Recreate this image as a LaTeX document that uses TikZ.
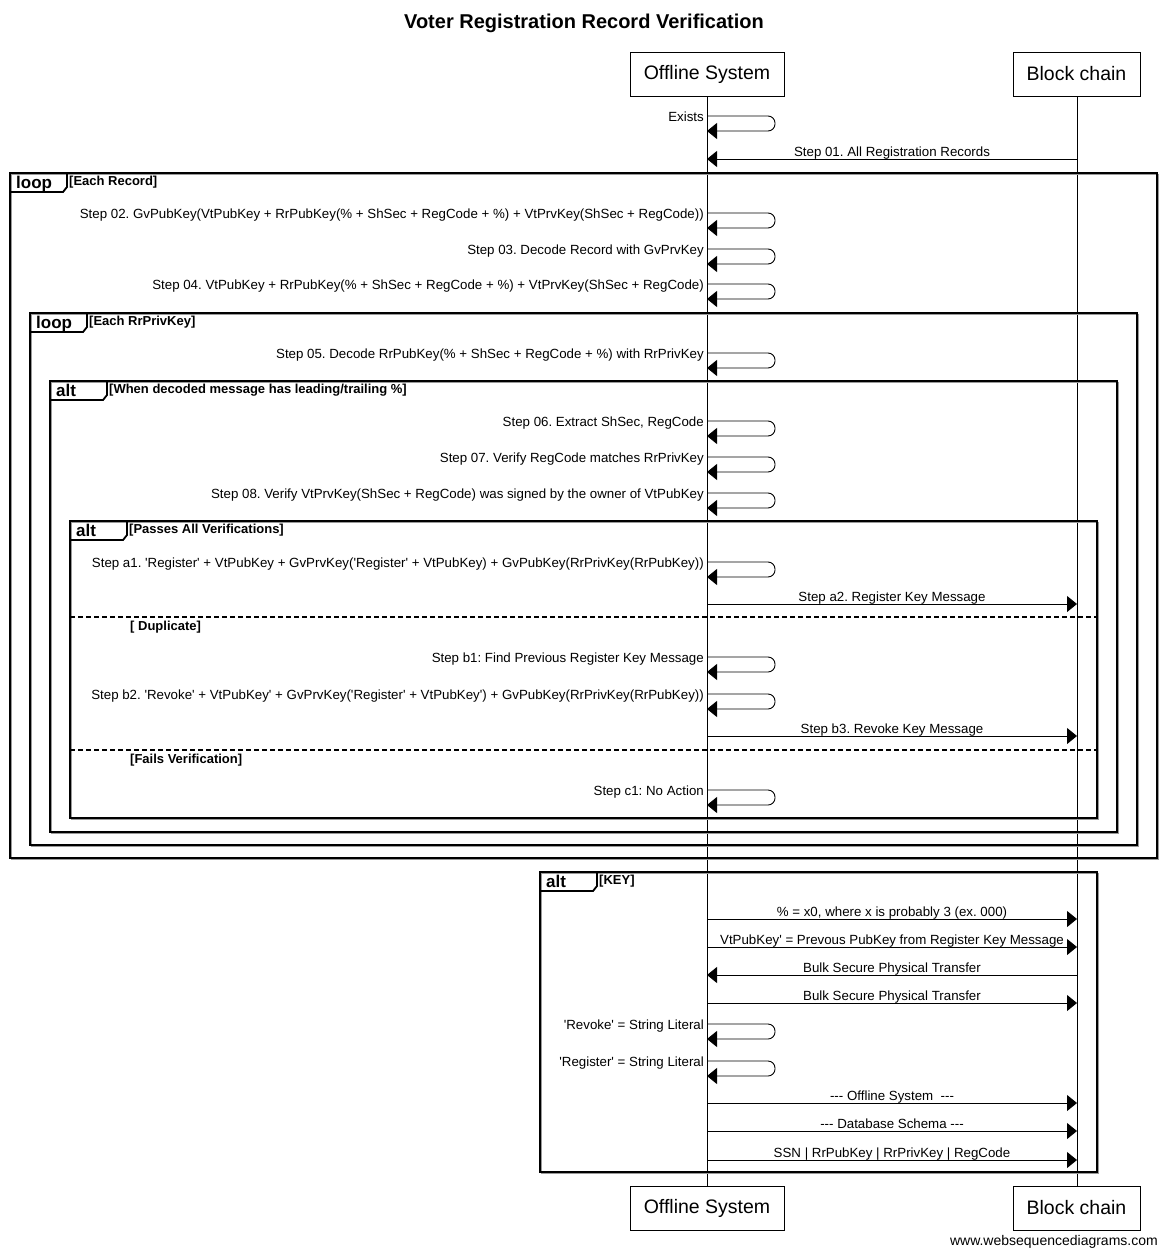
\documentclass[tikz,border=0pt]{standalone}
\usepackage{fontspec}
\setmainfont{Liberation Sans}[Ligatures=TeXOff]
\usetikzlibrary{arrows.meta}
\frenchspacing

% lifeline x positions
\def\xa{707}
\def\xb{1077}

\tikzset{
  part/.style={draw, line width=0.8pt, minimum height=44pt, inner sep=0pt,
    font=\fontsize{19.5}{22}\selectfont},
  lifeline/.style={line width=0.8pt},
  msg/.style={line width=0.9pt, -{Triangle[length=10pt,width=16pt]}},
  lbl/.style={font=\fontsize{13.3}{15}\selectfont, inner sep=0pt},
  kw/.style={font=\fontsize{17}{19}\selectfont\bfseries, inner sep=0pt},
  cond/.style={font=\fontsize{13}{15}\selectfont\bfseries, inner sep=0pt},
  frameline/.style={line width=1.8pt},
  frameshade/.style={line width=1.2pt, black!40},
  sepline/.style={line width=1.4pt, dash pattern=on 5pt off 3pt},
}

% self message on the Offline System lifeline
\newcommand\selfmsg[3]{%
  \coordinate (#1) at (\xa,#2);
  \node[lbl, anchor=base east] at ([xshift=-3pt,yshift=-5.5pt]#1) {#3};
  \draw[msg, rounded corners=7pt] (#1) -- ++(68,0) -- ++(0,15) -- ++(-68,0);
}
% Offline System -> Block chain
\newcommand\msgright[3]{%
  \coordinate (#1a) at (\xa,#2);
  \coordinate (#1b) at (\xb,#2);
  \draw[msg] (#1a) -- node[lbl, anchor=base, yshift=2.5pt] {#3} (#1b);
}
% Block chain -> Offline System
\newcommand\msgleft[3]{%
  \coordinate (#1a) at (\xa,#2);
  \coordinate (#1b) at (\xb,#2);
  \draw[msg] (#1b) -- node[lbl, anchor=base, yshift=2.5pt] {#3} (#1a);
}
% combined fragment: x1, y1, x2, y2, keyword, condition
\newcommand\fragment[6]{%
  \draw[frameshade] (#1+1.2,#2+1.2) rectangle (#3+1.2,#4+1.2);
  \draw[frameline] (#1,#2) rectangle (#3,#4);
  \draw[frameline] (#1,#2+19) -- (#1+53,#2+19) -- (#1+57,#2+14) -- (#1+57,#2);
  \node[kw, anchor=base west] at (#1+6,#2+15) {#5};
  \node[cond, anchor=base west] at (#1+59,#2+12) {#6};
}
% else separator inside an alt fragment: x1, x2, y, condition
\newcommand\separator[4]{%
  \draw[sepline] (#1,#3) -- (#2,#3);
  \node[cond, anchor=base west] at (#1+60,#3+13) {#4};
}

\begin{document}
\begin{tikzpicture}[x=1pt,y=-1pt]
\useasboundingbox[fill=white] (0,0) rectangle (1167,1255);

% title
\node[font=\fontsize{20}{24}\selectfont\bfseries, anchor=base] (title) at (584,29) {Voter Registration Record Verification};

% participants
\node[part, minimum width=154pt] (os1) at (\xa,74) {Offline System};
\node[part, minimum width=127pt] (bc1) at (1076.5,74) {Block chain};
\node[part, minimum width=154pt] (os2) at (\xa,1208) {Offline System};
\node[part, minimum width=127pt] (bc2) at (1076.5,1208) {Block chain};
\draw[lifeline] (os1.south) -- (os2.north);
\draw[lifeline] (\xb,96) coordinate (bctop) -- (\xb,1186) coordinate (bcbot);

% messages before the loop
\selfmsg{m0}{116}{Exists}
\msgleft{m1}{159}{Step 01. All Registration Records}

% loop over each record
\fragment{10}{173}{1157}{858}{loop}{[Each Record]}
\selfmsg{m2}{213}{Step 02. GvPubKey(VtPubKey + RrPubKey(\% + ShSec + RegCode + \%) + VtPrvKey(ShSec + RegCode))}
\selfmsg{m3}{249}{Step 03. Decode Record with GvPrvKey}
\selfmsg{m4}{284}{Step 04. VtPubKey + RrPubKey(\% + ShSec + RegCode + \%) + VtPrvKey(ShSec + RegCode)}

% loop over each private key
\fragment{30}{313}{1137}{845}{loop}{[Each RrPrivKey]}
\selfmsg{m5}{353}{Step 05. Decode RrPubKey(\% + ShSec + RegCode + \%) with RrPrivKey}

\fragment{50}{381}{1117}{832}{alt}{[When decoded message has leading/trailing \%]}
\selfmsg{m6}{421}{Step 06. Extract ShSec, RegCode}
\selfmsg{m7}{457}{Step 07. Verify RegCode matches RrPrivKey}
\selfmsg{m8}{493}{Step 08. Verify VtPrvKey(ShSec + RegCode) was signed by the owner of VtPubKey}

\fragment{70}{521}{1097}{818}{alt}{[Passes All Verifications]}
\selfmsg{ma1}{562}{Step a1. 'Register' + VtPubKey + GvPrvKey('Register' + VtPubKey) + GvPubKey(RrPrivKey(RrPubKey))}
\msgright{ma2}{604}{Step a2. Register Key Message}
\separator{70}{1097}{617}{[ Duplicate]}
\selfmsg{mb1}{657}{Step b1: Find Previous Register Key Message}
\selfmsg{mb2}{694}{Step b2. 'Revoke' + VtPubKey' + GvPrvKey('Register' + VtPubKey') + GvPubKey(RrPrivKey(RrPubKey))}
\msgright{mb3}{736}{Step b3. Revoke Key Message}
\separator{70}{1097}{750}{[Fails Verification]}
\selfmsg{mc1}{790}{Step c1: No Action}

% key
\fragment{540}{872}{1097}{1172}{alt}{[KEY]}
\msgright{k1}{919}{\% = x0, where x is probably 3 (ex. 000)}
\msgright{k2}{947}{VtPubKey' = Prevous PubKey from Register Key Message}
\msgleft{k3}{975}{Bulk Secure Physical Transfer}
\msgright{k4}{1003}{Bulk Secure Physical Transfer}
\selfmsg{k5}{1024}{'Revoke' = String Literal}
\selfmsg{k6}{1061}{'Register' = String Literal}
\msgright{k7}{1103}{--- Offline System\ \ ---}
\msgright{k8}{1131}{--- Database Schema ---}
\msgright{k9}{1160}{SSN | RrPubKey | RrPrivKey | RegCode}

\node[font=\fontsize{14}{16}\selectfont, inner sep=0pt, anchor=base east] (credit) at (1158,1245) {www.websequencediagrams.com};
\end{tikzpicture}
\end{document}
